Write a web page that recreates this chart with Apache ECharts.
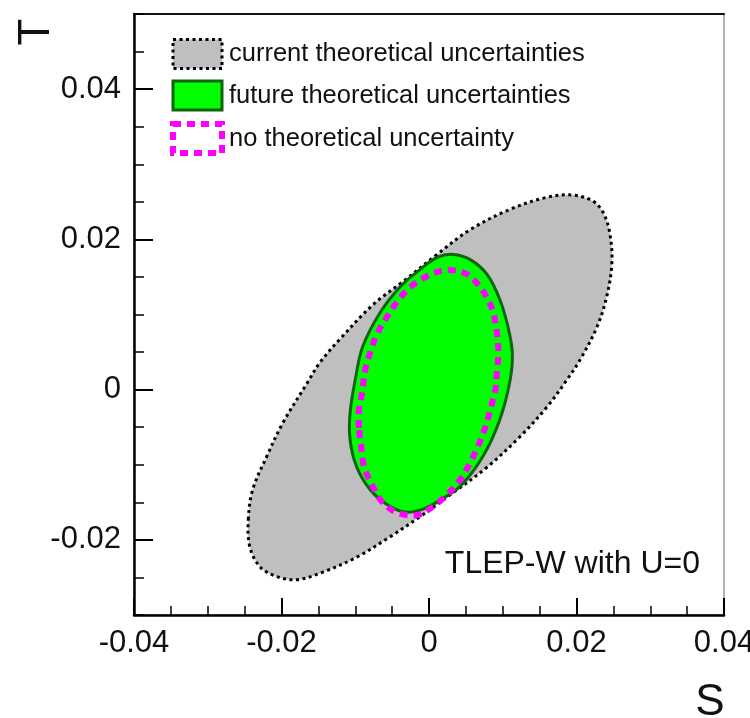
<!DOCTYPE html>
<html><head><meta charset="utf-8">
<script src="https://cdn.jsdelivr.net/npm/echarts@6/dist/echarts.min.js"></script>
<style>html,body{margin:0;padding:0;background:#fff}#c{width:750px;height:718px}</style>
</head><body><div id="c"></div>
<script>
// ---- data ----
const legendNames = ['current theoretical uncertainties', 'future theoretical uncertainties', 'no theoretical uncertainty'];
const xTickValues = [-0.04, -0.02, 0, 0.02, 0.04];
const yTickValues = [-0.02, 0, 0.02, 0.04];
const xAxisName = 'S';
const yAxisName = 'T';
const annotation = 'TLEP-W with U=0';

// [S, T] points along each 68% CL contour
const currentContour = [
  [-0.0245, -0.0173], [-0.0239, -0.0133], [-0.0220, -0.0089], [-0.0198, -0.0044], [-0.0165, 0.0009],
  [-0.0148, 0.0036], [-0.0121, 0.0067], [-0.0076, 0.0113], [-0.0035, 0.0144], [0.0011, 0.0180],
  [0.0056, 0.0213], [0.0110, 0.0240], [0.0160, 0.0256], [0.0195, 0.0259], [0.0222, 0.0251],
  [0.0236, 0.0236], [0.0245, 0.0209], [0.0248, 0.0169], [0.0241, 0.0124], [0.0228, 0.0084],
  [0.0205, 0.0040], [0.0187, 0.0013], [0.0160, -0.0023], [0.0123, -0.0063], [0.0079, -0.0103],
  [0.0033, -0.0137], [-0.0012, -0.0169], [-0.0053, -0.0196], [-0.0098, -0.0223], [-0.0144, -0.0243],
  [-0.0179, -0.0253], [-0.0206, -0.0249], [-0.0229, -0.0236], [-0.0243, -0.0209]
];
const futureContour = [
  [-0.0107, -0.0067], [-0.0107, -0.0031], [-0.0100, 0.0013], [-0.0090, 0.0057], [-0.0066, 0.0103],
  [-0.0039, 0.0137], [-0.0012, 0.0160], [0.0011, 0.0176], [0.0033, 0.0180], [0.0056, 0.0173],
  [0.0079, 0.0153], [0.0096, 0.0120], [0.0107, 0.0084], [0.0113, 0.0049], [0.0110, 0.0013],
  [0.0096, -0.0040], [0.0073, -0.0089], [0.0042, -0.0129], [0.0015, -0.0147], [-0.0008, -0.0159],
  [-0.0033, -0.0163], [-0.0057, -0.0153], [-0.0080, -0.0133], [-0.0098, -0.0103]
];
const noTheoryContour = [
  [-0.0095, -0.0051], [-0.0095, -0.0027], [-0.0090, 0.0000], [-0.0087, 0.0024], [-0.0080, 0.0049],
  [-0.0071, 0.0073], [-0.0057, 0.0097], [-0.0043, 0.0117], [-0.0026, 0.0136], [-0.0003, 0.0151],
  [0.0022, 0.0159], [0.0046, 0.0156], [0.0060, 0.0147], [0.0076, 0.0127], [0.0087, 0.0103],
  [0.0092, 0.0076], [0.0094, 0.0049], [0.0092, 0.0023], [0.0090, 0.0000], [0.0083, -0.0027],
  [0.0076, -0.0051], [0.0066, -0.0076], [0.0056, -0.0097], [0.0042, -0.0120], [0.0024, -0.0140],
  [0.0005, -0.0156], [-0.0016, -0.0167], [-0.0043, -0.0164], [-0.0064, -0.0149], [-0.0077, -0.0127],
  [-0.0088, -0.0103], [-0.0092, -0.0076]
];

// ---- styles ----
const FONT = '"Liberation Sans", Arial, Helvetica, sans-serif';
const styles = [
  { fill: '#bfbfbf', stroke: '#000000', lineWidth: 3, lineDash: [3, 3.5] },
  { fill: '#00ff00', stroke: '#0d650d', lineWidth: 3, lineDash: null },
  { fill: 'none', stroke: '#ff00ff', lineWidth: 6, lineDash: [8, 6] }
];
const contours = [currentContour, futureContour, noTheoryContour];

function fmt(v) { return v === 0 ? '0' : String(+v.toFixed(2)); }

const chart = echarts.init(document.getElementById('c'), null, { renderer: 'canvas' });

const series = contours.map((pts, i) => ({
  type: 'custom',
  name: legendNames[i],
  coordinateSystem: 'cartesian2d',
  xAxisIndex: 0,
  yAxisIndex: 0,
  silent: true,
  z: 2 + i,
  itemStyle: { color: styles[i].fill === 'none' ? '#fff' : styles[i].fill, borderColor: styles[i].stroke },
  data: [pts[0]],
  renderItem: function (params, api) {
    const s = styles[i];
    return {
      type: 'polygon',
      shape: { points: pts.map(p => api.coord(p)), smooth: 0.35 },
      style: { fill: s.fill, stroke: s.stroke, lineWidth: s.lineWidth, lineDash: s.lineDash }
    };
  }
}));

chart.setOption({
  animation: false,
  backgroundColor: '#fff',
  textStyle: { fontFamily: FONT },
  grid: { left: 134, right: 26, top: 14, bottom: 103, show: true, borderColor: '#999', borderWidth: 1.5,
          backgroundColor: 'transparent', containLabel: false, outerBoundsMode: 'none' },
  title: {
    text: annotation, right: 50, top: 548, padding: 0,
    textStyle: { fontSize: 32, fontWeight: 'normal', color: '#111', fontFamily: FONT }
  },
  legend: {
    orient: 'vertical', left: 170, top: 38, padding: 0, itemWidth: 49, itemHeight: 29, itemGap: 9.5,
    icon: 'rect', selectedMode: false,
    textStyle: { fontSize: 25.5, color: '#111', fontFamily: FONT, padding: [0, 0, 0, 2] },
    data: legendNames.map((n, i) => ({
      name: n, icon: 'rect',
      itemStyle: {
        color: styles[i].fill === 'none' ? 'rgba(0,0,0,0)' : styles[i].fill,
        borderColor: styles[i].stroke, borderWidth: styles[i].lineWidth,
        borderType: styles[i].lineDash || 'solid'
      }
    }))
  },
  xAxis: [{
    type: 'value', min: -0.04, max: 0.04, interval: 0.02, position: 'bottom',
    name: xAxisName, nameLocation: 'end', nameGap: -14,
    nameTextStyle: { fontSize: 44, color: '#111', align: 'center', verticalAlign: 'top', padding: [66, 0, 0, 0], fontFamily: FONT },
    axisLine: { show: true, onZero: false, lineStyle: { color: '#000', width: 2.5 } },
    axisTick: { show: true, inside: true, length: 17, lineStyle: { color: '#000', width: 2 } },
    minorTick: { show: true, splitNumber: 4, length: 9, lineStyle: { color: '#000', width: 1.5 } },
    splitLine: { show: false }, minorSplitLine: { show: false },
    axisLabel: { fontSize: 31, color: '#111', margin: 13, formatter: fmt, showMinLabel: true, showMaxLabel: true, hideOverlap: false, fontFamily: FONT }
  }, {
    type: 'value', min: -0.04, max: 0.04, position: 'top',
    axisLine: { show: true, onZero: false, lineStyle: { color: '#111', width: 2 } },
    axisTick: { show: false }, axisLabel: { show: false }, splitLine: { show: false }
  }],
  yAxis: [{
    type: 'value', min: -0.03, max: 0.05, interval: 0.01, position: 'left',
    name: yAxisName, nameLocation: 'end', nameGap: -18, nameRotate: 90,
    nameTextStyle: { fontSize: 44, color: '#111', align: 'center', verticalAlign: 'bottom', padding: [0, 0, 75, 0], fontFamily: FONT },
    axisLine: { show: true, onZero: false, lineStyle: { color: '#000', width: 2.5 } },
    axisTick: { show: true, inside: true, length: 19, customValues: yTickValues, lineStyle: { color: '#000', width: 2 } },
    axisLabel: { show: true, fontSize: 31, color: '#111', margin: 13, customValues: yTickValues, formatter: fmt, fontFamily: FONT },
    splitLine: { show: false }
  }, {
    type: 'value', min: -0.03, max: 0.05, interval: 0.005, position: 'left',
    axisLine: { show: false, onZero: false },
    axisTick: { show: true, inside: true, length: 10, lineStyle: { color: '#000', width: 1.5 } },
    axisLabel: { show: false }, splitLine: { show: false }
  }],
  series: series
});
</script>
</body></html>
